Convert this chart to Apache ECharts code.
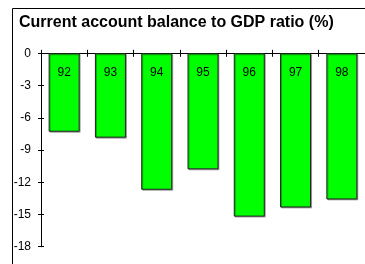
<!DOCTYPE html>
<html>
<head>
<meta charset="utf-8">
<script src="https://cdn.jsdelivr.net/npm/echarts@6/dist/echarts.min.js"></script>
<style>html,body{margin:0;padding:0;background:#fff}#c{width:365px;height:264px}</style>
</head>
<body>
<div id="c"></div>
<script>
var categories = ['92', '93', '94', '95', '96', '97', '98'];
var values = [-7.3, -7.85, -12.7, -10.8, -15.2, -14.35, -13.6];
var yTicks = { min: -18, max: 0, interval: 3 };
var titleText = 'Current account balance to GDP ratio (%)';

var FONT = "'Liberation Sans', Arial, sans-serif";
var chart = echarts.init(document.getElementById('c'), null, { renderer: 'canvas' });
var yBase = {
  type: 'value', min: yTicks.min, max: yTicks.max, interval: yTicks.interval,
  position: 'left', splitLine: { show: false },
  axisLine: { show: true, lineStyle: { color: '#000', width: 1 } }
};
chart.setOption({
  animation: false,
  backgroundColor: '#fff',
  title: {
    text: titleText, left: 14, top: 10,
    textStyle: { fontFamily: FONT, fontSize: 16, fontWeight: 'bold', color: '#000' }
  },
  graphic: [{
    type: 'rect', shape: { x: 12.5, y: 8.5, width: 400, height: 300 },
    style: { fill: 'none', stroke: '#000', lineWidth: 1 }, silent: true, z: 100
  }],
  grid: { left: 41, right: -5, top: 53.3, bottom: 17.3, containLabel: false },
  xAxis: [{
    type: 'category', data: categories, position: 'bottom',
    axisLine: { show: true, onZero: true, lineStyle: { color: '#000', width: 1 } },
    axisTick: { show: true, alignWithLabel: false, length: 3.5, inside: false, lineStyle: { color: '#000' } },
    axisLabel: { show: false }, splitLine: { show: false }
  }, {
    type: 'category', data: categories, position: 'bottom',
    axisLine: { show: true, onZero: true, lineStyle: { color: '#000', width: 1 } },
    axisTick: { show: true, alignWithLabel: false, length: 3.5, inside: true, lineStyle: { color: '#000' } },
    axisLabel: { show: false }, splitLine: { show: false }
  }],
  yAxis: [Object.assign({}, yBase, {
    axisTick: { show: true, length: 3, inside: false, lineStyle: { color: '#000' } },
    axisLabel: { show: true, margin: 10, fontFamily: FONT, fontSize: 12, color: '#000' }
  }), Object.assign({}, yBase, {
    axisTick: { show: true, length: 3, inside: true, lineStyle: { color: '#000' } },
    axisLabel: { show: false }
  })],
  series: [{
    type: 'bar', data: values, xAxisIndex: 0, yAxisIndex: 0,
    barWidth: '67%',
    itemStyle: {
      color: '#00ff00', borderColor: '#222', borderWidth: 1,
      shadowColor: 'rgba(0,0,0,0.3)', shadowOffsetX: 1, shadowOffsetY: 1, shadowBlur: 0
    },
    label: {
      show: true, position: 'insideTop', distance: 13, formatter: '{b}',
      fontFamily: FONT, fontSize: 12, color: '#000'
    }
  }]
});
</script>
</body>
</html>
